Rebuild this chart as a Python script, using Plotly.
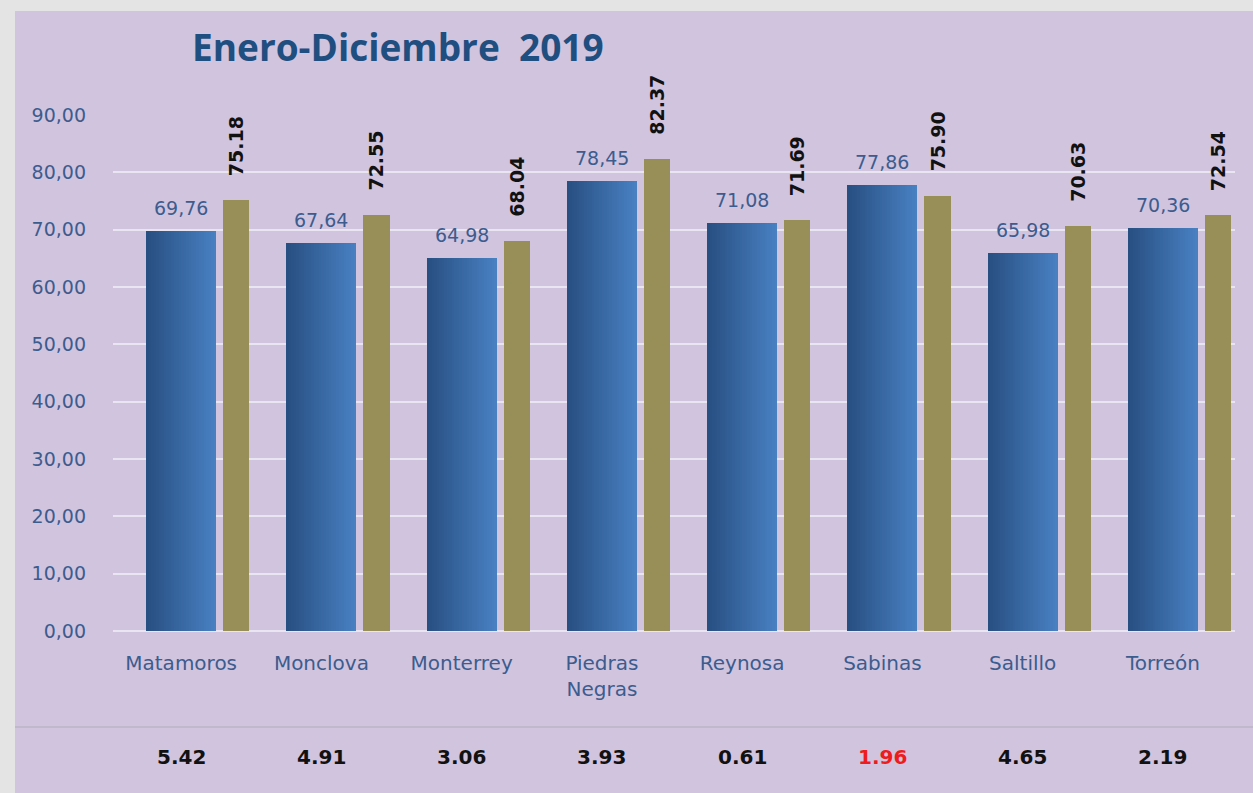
import plotly.graph_objects as go

categories = ["Matamoros", "Monclova", "Monterrey", "Piedras<br>Negras", "Reynosa", "Sabinas", "Saltillo", "Torreón"]
blue_values = [69.76, 67.64, 64.98, 78.45, 71.08, 77.86, 65.98, 70.36]
olive_values = [75.18, 72.55, 68.04, 82.37, 71.69, 75.90, 70.63, 72.54]
diff_values = [5.42, 4.91, 3.06, 3.93, 0.61, 1.96, 4.65, 2.19]
diff_colors = ["#111111", "#111111", "#111111", "#111111", "#111111", "#EE1C1C", "#111111", "#111111"]
y_ticks = [0, 10, 20, 30, 40, 50, 60, 70, 80, 90]

W, H = 1253, 793
L, R, T, B = 113, 18, 115, 162

TICK_COLOR = "#3C5C8E"
PANEL = "#D1C4DE"
OUTER = "#E4E4E4"

idx = list(range(len(categories)))
BLUE_OFF, BLUE_W = 0.236, 0.5
OLIVE_OFF, OLIVE_W = 0.786, 0.186


def lerp(c1, c2, t):
    a = [int(c1[i:i + 2], 16) for i in (1, 3, 5)]
    b = [int(c2[i:i + 2], 16) for i in (1, 3, 5)]
    return "#" + "".join(f"{round(a[k] + (b[k] - a[k]) * t):02x}" for k in range(3))


fig = go.Figure()

# blue bars with horizontal gradient (drawn as slices)
n = 28
sw = BLUE_W / n
for s in range(n):
    col = lerp("#284F82", "#4880C2", s / (n - 1))
    fig.add_trace(go.Bar(
        x=idx, y=blue_values,
        offset=BLUE_OFF + s * sw,
        width=sw * (1.5 if s < n - 1 else 1.0),
        marker=dict(color=col, line=dict(width=0)),
        showlegend=False, hoverinfo="skip",
    ))

fig.add_trace(go.Bar(
    x=idx, y=olive_values,
    offset=OLIVE_OFF, width=OLIVE_W,
    marker=dict(color="#978F57", line=dict(width=0)),
    showlegend=False, hoverinfo="skip",
))

annotations = []
for i, v in enumerate(blue_values):
    annotations.append(dict(
        x=i + BLUE_OFF + BLUE_W / 2, y=v, xref="x", yref="y",
        text=f"{v:.2f}".replace(".", ","), showarrow=False,
        yanchor="bottom", yshift=10,
        font=dict(family="DejaVu Sans", size=19, color=TICK_COLOR),
    ))
for i, v in enumerate(olive_values):
    annotations.append(dict(
        x=i + OLIVE_OFF + OLIVE_W / 2, y=v, xref="x", yref="y",
        text=f"<b>{v:.2f}</b>", showarrow=False, textangle=-90,
        yanchor="bottom", yshift=22,
        font=dict(family="DejaVu Sans", size=19, color="#111111"),
    ))
ph = H - T - B
for i, v in enumerate(diff_values):
    annotations.append(dict(
        x=i + BLUE_OFF + BLUE_W / 2, y=(H - B - 757) / ph, xref="x", yref="paper",
        text=f"<b>{v:.2f}</b>", showarrow=False, yanchor="middle",
        font=dict(family="DejaVu Sans", size=20, color=diff_colors[i]),
    ))

pw = W - L - R
shapes = [
    dict(type="rect", xref="paper", yref="paper", layer="below",
         x0=(15 - L) / pw, x1=(W - L) / pw + 0.01,
         y0=(H - B - H) / ph - 0.01, y1=(H - B - 11) / ph,
         fillcolor=PANEL, line=dict(width=0)),
    dict(type="line", xref="paper", yref="paper", layer="below",
         x0=(15 - L) / pw, x1=(W - L) / pw,
         y0=(H - B - 727) / ph, y1=(H - B - 727) / ph,
         line=dict(color="#C2B8CC", width=2)),
]

fig.update_layout(
    width=W, height=H,
    margin=dict(l=L, r=R, t=T, b=B, pad=0),
    paper_bgcolor=OUTER, plot_bgcolor="rgba(0,0,0,0)",
    barmode="overlay", bargap=0,
    separators=",.",
    title=dict(text="<b>Enero-Diciembre  2019</b>", x=192 / W, xanchor="left",
               y=1 - 48 / H, yanchor="middle",
               font=dict(family="Open Sans", size=37, color="#1F4E80")),
    xaxis=dict(range=[0, 8], tickmode="array",
               tickvals=[i + BLUE_OFF + BLUE_W / 2 for i in idx],
               ticktext=categories, showgrid=False, zeroline=False,
               showline=False, ticks="", ticklabelstandoff=18,
               tickfont=dict(family="DejaVu Sans", size=20, color=TICK_COLOR)),
    yaxis=dict(range=[0, 90], tickmode="array", tickvals=y_ticks,
               tickformat=".2f", showgrid=True, gridcolor="#E9E5F1", gridwidth=2,
               zeroline=True, zerolinecolor="#E9E5F1", zerolinewidth=2,
               showline=False, ticks="", ticklabelstandoff=26,
               tickfont=dict(family="DejaVu Sans", size=19, color=TICK_COLOR)),
    annotations=annotations,
    shapes=shapes,
)

fig.write_html("out.html")
